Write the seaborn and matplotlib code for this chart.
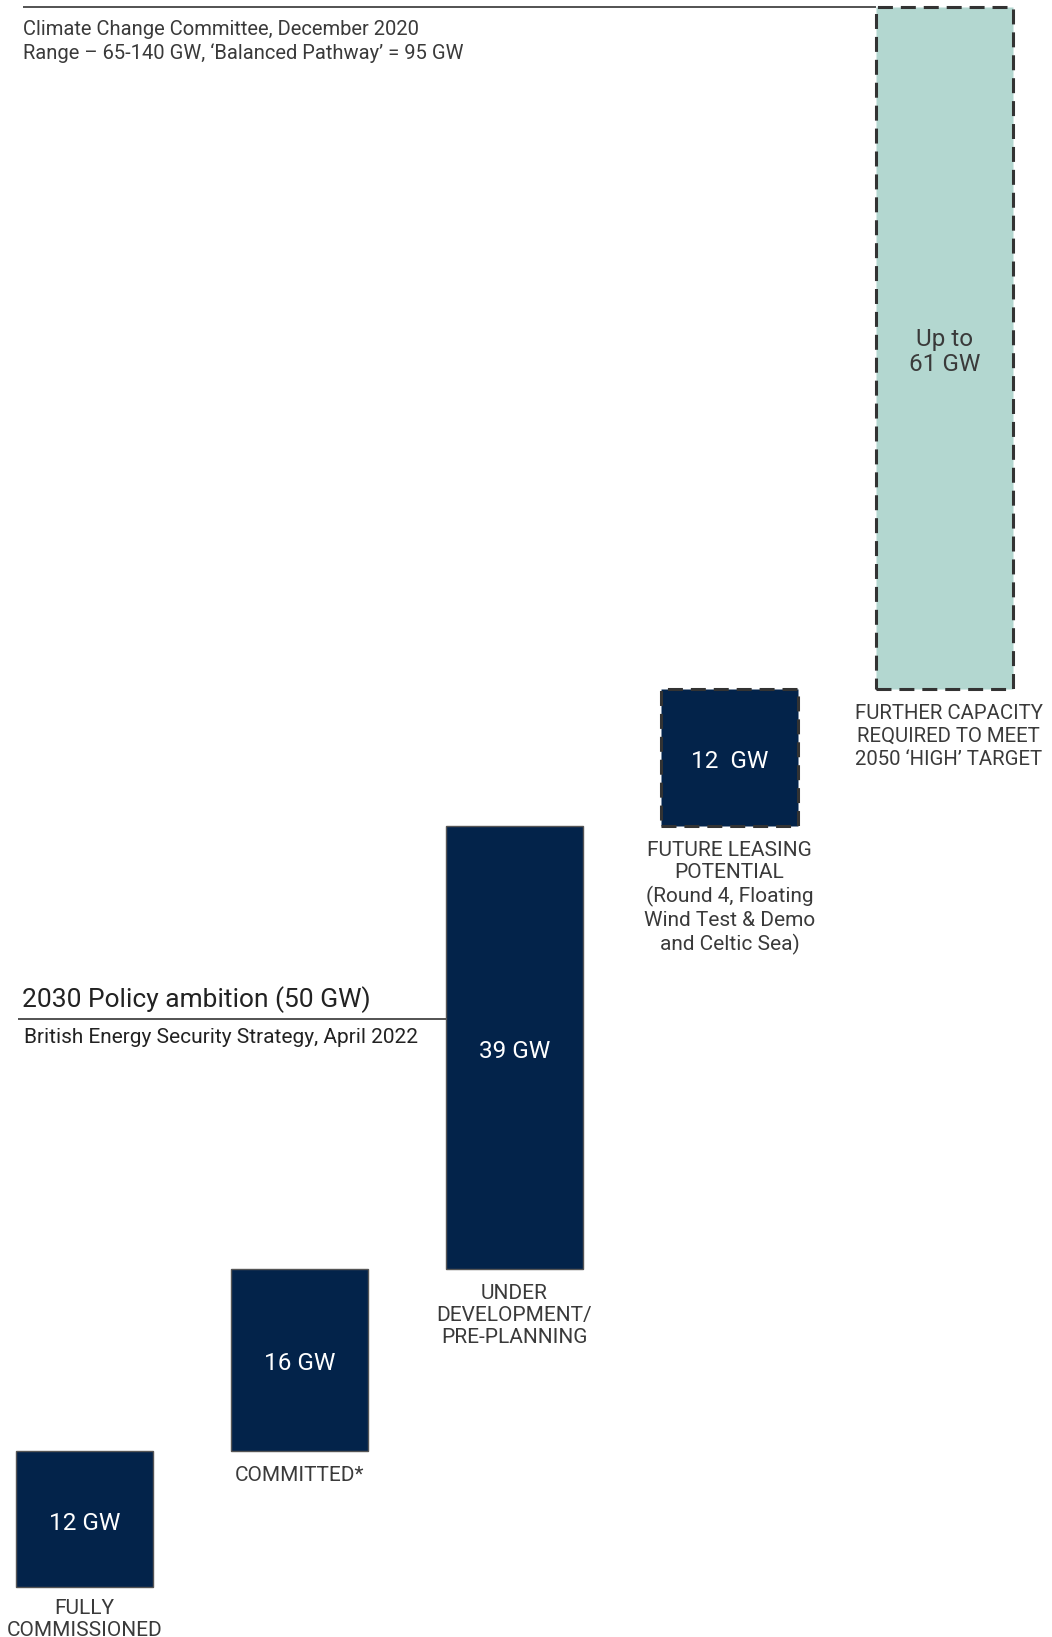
import numpy as np
import pandas as pd
import matplotlib.pyplot as plt
import seaborn as sns

# Chart data
categories = ['FULLY\nCOMMISSIONED', 'COMMITTED*', 'UNDER\nDEVELOPMENT/\nPRE-PLANNING',
              'FUTURE LEASING\nPOTENTIAL\n(Round 4, Floating\nWind Test & Demo\nand Celtic Sea)',
              'FURTHER CAPACITY\nREQUIRED TO MEET\n2050 \u2018HIGH\u2019 TARGET']
capacity_gw = [12, 16, 39, 12, 60]
value_labels = ['12 GW', '16 GW', '39 GW', '12  GW', 'Up to\n61 GW']
policy_gw = 50
policy_title = '2030 Policy ambition (50 GW)'
policy_source = 'British Energy Security Strategy, April 2022'
ccc_note = 'Climate Change Committee, December 2020\nRange \u2013 65-140 GW, \u2018Balanced Pathway\u2019 = 95 GW'

navy = '#03234A'
teal = '#B3D7D0'
text_col = '#3a3a3a'

sns.set_style('white')
plt.rcParams['font.family'] = ['Roboto', 'DejaVu Sans']

tops = np.cumsum(capacity_gw)
bottoms = tops - np.array(capacity_gw)
df = pd.DataFrame({'category': categories, 'top': tops})

fig = plt.figure(figsize=(10.52, 16.37), dpi=100)
ax = fig.add_axes([0, 0, 1, 1])
width = 0.64
sns.barplot(data=df, x='category', y='top', color=navy, saturation=1,
            width=width, ax=ax)

# turn cumulative bars into floating waterfall steps
for i, patch in enumerate(ax.patches):
    patch.set_y(bottoms[i])
    patch.set_height(capacity_gw[i])
    if i < 3:
        patch.set_edgecolor('#555555')
        patch.set_linewidth(1.0)
    else:
        patch.set_edgecolor('#333333')
        patch.set_linewidth(2.2)
        patch.set_linestyle((0, (4.9, 2.6)))
    if i == 4:
        patch.set_facecolor(teal)

ax.set_xlim(-0.393, 4.5)
ax.set_ylim(-4.37, tops[-1] + 0.61)
ax.set_axis_off()

# value labels inside bars
for i, lab in enumerate(value_labels):
    col = text_col if i == 4 else 'white'
    ax.annotate(lab, (i, bottoms[i] + capacity_gw[i] / 2), xytext=(0, -4),
                textcoords='offset pixels', ha='center', va='center',
                color=col, fontsize=17.5, fontweight='normal', linespacing=1.12)

# category labels under bars
spacing = [1.15, 1.15, 1.2, 1.24, 1.25]
for i, lab in enumerate(categories):
    dx = 4 if i == 4 else 0
    dy = -12 if i == 0 else -15
    fs = 14.7 if i == 4 else 15
    ax.annotate(lab, (i, bottoms[i]), xytext=(dx, dy), textcoords='offset pixels',
                ha='center', va='top', color=text_col, fontsize=fs,
                fontweight='normal', linespacing=spacing[i])

# reference lines
ax.plot([-0.286, 4 - width / 2], [tops[-1], tops[-1]], color='#444444', lw=1.3,
        solid_capstyle='butt')
ax.plot([-0.31, 2 - width / 2], [policy_gw, policy_gw], color='#444444', lw=1.3,
        solid_capstyle='butt')

ytr = ax.get_yaxis_transform()
ax.annotate(ccc_note, (0.022, tops[-1]), xycoords=ytr, xytext=(0, -13),
            textcoords='offset pixels', ha='left', va='top', color=text_col,
            fontsize=14.5, fontweight='normal', linespacing=1.25)
ax.annotate(policy_title, (0.021, policy_gw), xycoords=ytr, xytext=(0, 6),
            textcoords='offset pixels', ha='left', va='bottom', color='#222222',
            fontsize=19, fontweight='normal')
ax.annotate(policy_source, (0.023, policy_gw), xycoords=ytr, xytext=(0, -9),
            textcoords='offset pixels', ha='left', va='top', color='#222222',
            fontsize=15, fontweight='normal')

fig.savefig('out.png', dpi=100, facecolor='white')
